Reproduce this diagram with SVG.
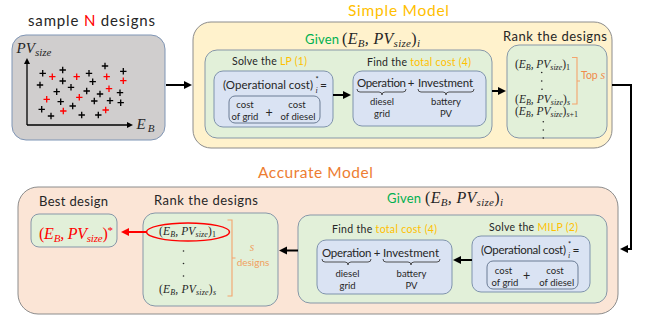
<svg xmlns="http://www.w3.org/2000/svg" width="646" height="320" viewBox="0 0 646 320">
<defs>
<style>
.t{font-family:Lato,"Liberation Sans",sans-serif;fill:#262626}
.m{font-family:"Liberation Serif",serif;font-style:italic;fill:#262626}
.u{font-style:normal}
.y{fill:#FFC000}
.gr{fill:#00B050}
.or{fill:#F08A4B}
.green{fill:#E2F0D9;stroke:#8797A8;stroke-width:1}
.blue{fill:#DAE3F3;stroke:#7F93AD;stroke-width:1}
.inner{fill:#DAE3F3;stroke:#5F708A;stroke-width:0.9}
.conn{stroke:#000;stroke-width:2;fill:none;marker-end:url(#ah)}
.red{stroke:#FF0000;stroke-width:2;fill:none;marker-end:url(#ahr)}
.brace{fill:none;stroke:#404040;stroke-width:0.9}
.obr{fill:none;stroke:#F4A46C;stroke-width:1.1}
.pk{stroke:#000;stroke-width:1.3;fill:none}
.pr{stroke:#FF0000;stroke-width:1.3;fill:none}
.ax{stroke:#000;stroke-width:1.3;fill:none;marker-end:url(#axh)}
</style>
<marker id="ah" markerWidth="9" markerHeight="9" refX="1" refY="4" orient="auto" markerUnits="userSpaceOnUse"><path d="M0,0L8,4L0,8z" fill="#000"/></marker>
<marker id="ahr" markerWidth="9" markerHeight="9" refX="1" refY="4" orient="auto" markerUnits="userSpaceOnUse"><path d="M0,0L8,4L0,8z" fill="#FF0000"/></marker>
<marker id="axh" markerWidth="7" markerHeight="7" refX="1" refY="3" orient="auto" markerUnits="userSpaceOnUse"><path d="M0,0L6,3L0,6z" fill="#000"/></marker>
<path id="plus" d="M-3.2,0H3.2M0,-3.2V3.2"/>
</defs>

<g id="sample-designs">
<text class="t" x="28" y="26" font-size="15" textLength="127">sample <tspan fill="#FF0000">N</tspan> designs</text>
<rect x="12" y="35" width="153" height="105" rx="14" fill="#D0CECE" stroke="#7F95B5" stroke-width="1"/>
<path class="ax" d="M27,125V63"/>
<path class="ax" d="M27,125H128"/>
<text class="m" x="16.5" y="53" font-size="15" textLength="35">PV<tspan font-size="11" dy="2.5">size</tspan></text>
<text class="m" x="136.5" y="128.5" font-size="15" textLength="18">E<tspan font-size="11" dy="3">B</tspan></text>
<g class="pk">
<use href="#plus" x="42.7" y="73.3"/><use href="#plus" x="62.7" y="70"/><use href="#plus" x="89" y="73.3"/>
<use href="#plus" x="105" y="66"/><use href="#plus" x="123.3" y="71.3"/><use href="#plus" x="40" y="85"/>
<use href="#plus" x="62.7" y="81"/><use href="#plus" x="92.7" y="81.7"/><use href="#plus" x="56.7" y="91.7"/>
<use href="#plus" x="71" y="87.3"/><use href="#plus" x="86.7" y="91"/><use href="#plus" x="100" y="94"/>
<use href="#plus" x="120" y="92.7"/><use href="#plus" x="60.7" y="101.7"/><use href="#plus" x="72.7" y="106"/>
<use href="#plus" x="94.3" y="101"/><use href="#plus" x="110" y="100.7"/><use href="#plus" x="120.7" y="102.7"/>
<use href="#plus" x="41.7" y="109.3"/><use href="#plus" x="51" y="116"/><use href="#plus" x="81.7" y="115"/>
<use href="#plus" x="98.3" y="115"/>
</g>
<g class="pr">
<use href="#plus" x="52.3" y="76.7"/><use href="#plus" x="76.7" y="76.7"/><use href="#plus" x="106.7" y="76.7"/>
<use href="#plus" x="123.3" y="80.7"/><use href="#plus" x="109" y="88.7"/><use href="#plus" x="46.7" y="99.3"/>
<use href="#plus" x="79.3" y="97.3"/><use href="#plus" x="63.3" y="111"/><use href="#plus" x="105.7" y="110"/>
</g>
</g>

<g id="simple-model">
<text class="t y" x="348" y="16" font-size="15.5" textLength="101">Simple Model</text>
<rect x="193" y="22" width="419" height="126" rx="18" fill="#FFF2CC" stroke="#8C8C8C" stroke-width="1"/>
<text class="t gr" x="305" y="44" font-size="13" textLength="34">Given</text>
<text class="m" x="342" y="44" font-size="16" textLength="78"><tspan class="u">(</tspan>E<tspan font-size="11" dy="3">B</tspan><tspan dy="-3">, PV</tspan><tspan font-size="11" dy="3">size</tspan><tspan class="u" dy="-3">)</tspan><tspan font-size="11" dy="3">i</tspan></text>
</g>

<g id="simple-given">
<rect class="green" x="205" y="50" width="287" height="88" rx="12"/>
</g>

<g id="solve-lp">
<text class="t" x="232" y="65" font-size="10.5" textLength="75">Solve the <tspan class="y">LP (1)</tspan></text>
<rect class="blue" x="214" y="71" width="119" height="56" rx="9"/>
<text class="t" x="223" y="89" font-size="11.5"><tspan textLength="90">(Operational cost)</tspan><tspan class="m" x="315.5" dy="4" font-size="8">i</tspan><tspan x="315.5" dy="-11" font-size="7.5">*</tspan><tspan x="320" dy="7" font-size="12">=</tspan></text>
<rect class="inner" x="229" y="96" width="91" height="27" rx="6"/>
<g class="t" font-size="9.5" text-anchor="middle">
<text x="245" y="108">cost</text><text x="245" y="120">of grid</text>
<text x="297" y="108">cost</text><text x="298" y="120">of diesel</text>
<text x="269" y="117" font-size="12.5">+</text>
</g>
</g>

<g id="total-cost-simple">
<text class="t" x="367" y="66" font-size="10.5" textLength="104">Find the <tspan class="y">total cost (4)</tspan></text>
<rect class="blue" x="353" y="71" width="133" height="55" rx="9"/>
<text class="t" x="357" y="86.5" font-size="11.5" textLength="49">Operation</text>
<text class="t" x="411" y="86.5" font-size="11.5" text-anchor="middle">+</text>
<text class="t" x="418" y="86.5" font-size="11.5" textLength="55">Investment</text>
<path class="brace" d="M357,89 Q357,92 360,92 H379 Q382,92 382,95 Q382,92 385,92 H403 Q406,92 406,89"/>
<path class="brace" d="M418,89 Q418,92 421,92 H443 Q446,92 446,95 Q446,92 449,92 H471 Q474,92 474,89"/>
<g class="t" font-size="9.5" text-anchor="middle">
<text x="382" y="105">diesel</text><text x="382" y="117">grid</text>
<text x="446" y="105">battery</text><text x="446" y="117">PV</text>
</g>
</g>

<g id="rank-simple">
<text class="t" x="503" y="40.5" font-size="13" textLength="104">Rank the designs</text>
<rect class="green" x="507" y="45" width="100" height="93" rx="12"/>
<g class="m" font-size="11.5">
<text x="515" y="68" textLength="55"><tspan class="u">(</tspan>E<tspan font-size="8" dy="2">B</tspan><tspan dy="-2">, PV</tspan><tspan font-size="8" dy="2">size</tspan><tspan class="u" dy="-2">)</tspan><tspan class="u" font-size="8" dy="2">1</tspan></text>
<text x="515" y="103" textLength="55"><tspan class="u">(</tspan>E<tspan font-size="8" dy="2">B</tspan><tspan dy="-2">, PV</tspan><tspan font-size="8" dy="2">size</tspan><tspan class="u" dy="-2">)</tspan><tspan font-size="8" dy="2">s</tspan></text>
<text x="515" y="115" textLength="63"><tspan class="u">(</tspan>E<tspan font-size="8" dy="2">B</tspan><tspan dy="-2">, PV</tspan><tspan font-size="8" dy="2">size</tspan><tspan class="u" dy="-2">)</tspan><tspan font-size="8" dy="2">s<tspan class="u">+1</tspan></tspan></text>
</g>
<g fill="#262626">
<circle cx="541.7" cy="72.5" r="0.8"/><circle cx="541.7" cy="81" r="0.8"/><circle cx="542" cy="89.3" r="0.8"/>
<circle cx="543.3" cy="121.7" r="0.8"/><circle cx="543.3" cy="130" r="0.8"/><circle cx="543.3" cy="138" r="0.8"/>
</g>
<path class="obr" d="M572,57.5 H577 V104 H572 M577,81 H580"/>
<text class="t or" x="581" y="79" font-size="10.5">Top <tspan class="m or" font-size="12">s</tspan></text>
</g>

<g id="accurate-model">
<text class="t" x="258" y="178" font-size="15.5" textLength="115" style="fill:#ED7D31">Accurate Model</text>
<rect x="18" y="187" width="600" height="127" rx="20" fill="#FBE5D6" stroke="#8C8C8C" stroke-width="1"/>
<text class="t gr" x="387" y="203" font-size="13" textLength="34">Given</text>
<text class="m" x="425" y="203" font-size="16" textLength="78"><tspan class="u">(</tspan>E<tspan font-size="11" dy="3">B</tspan><tspan dy="-3">, PV</tspan><tspan font-size="11" dy="3">size</tspan><tspan class="u" dy="-3">)</tspan><tspan font-size="11" dy="3">i</tspan></text>
</g>

<g id="accurate-given">
<rect class="green" x="298" y="215" width="309" height="88" rx="12"/>
</g>

<g id="total-cost-accurate">
<text class="t" x="332" y="233" font-size="10.5" textLength="105">Find the <tspan class="y">total cost (4)</tspan></text>
<rect class="blue" x="317" y="240" width="135" height="54" rx="9"/>
<text class="t" x="322" y="256.5" font-size="11.5" textLength="49.5">Operation</text>
<text class="t" x="377" y="256.5" font-size="11.5" text-anchor="middle">+</text>
<text class="t" x="383" y="256.5" font-size="11.5" textLength="56">Investment</text>
<path class="brace" d="M322,259 Q322,262 325,262 H345 Q348,262 348,265 Q348,262 351,262 H368 Q371,262 371,259"/>
<path class="brace" d="M383,259 Q383,262 386,262 H408 Q411,262 411,265 Q411,262 414,262 H437 Q440,262 440,259"/>
<g class="t" font-size="9.5" text-anchor="middle">
<text x="347.5" y="277">diesel</text><text x="347.5" y="289">grid</text>
<text x="411.5" y="277">battery</text><text x="411.5" y="289">PV</text>
</g>
</g>

<g id="solve-milp">
<text class="t" x="489" y="231" font-size="10.5" textLength="89">Solve the <tspan class="y">MILP (2)</tspan></text>
<rect class="blue" x="472" y="236" width="118" height="56" rx="9"/>
<text class="t" x="481" y="254" font-size="11.5"><tspan textLength="85">(Operational cost)</tspan><tspan class="m" x="568" dy="4" font-size="8">i</tspan><tspan x="568" dy="-11" font-size="7.5">*</tspan><tspan x="572.5" dy="7" font-size="12">=</tspan></text>
<rect class="inner" x="487" y="261" width="91" height="28" rx="6"/>
<g class="t" font-size="9.5" text-anchor="middle">
<text x="503.5" y="273.5">cost</text><text x="505" y="285.5">of grid</text>
<text x="555" y="273.5">cost</text><text x="556.7" y="285.5">of diesel</text>
<text x="526.7" y="280" font-size="12.5">+</text>
</g>
</g>

<g id="rank-accurate">
<text class="t" x="154" y="205" font-size="13" textLength="104">Rank the designs</text>
<rect class="green" x="143" y="213" width="135" height="93" rx="12"/>
<ellipse cx="188" cy="232" rx="41.5" ry="9" fill="none" stroke="#FF0000" stroke-width="1.5"/>
<g class="m" font-size="11.5">
<text x="159" y="235" textLength="57"><tspan class="u">(</tspan>E<tspan font-size="8" dy="2">B</tspan><tspan dy="-2">, PV</tspan><tspan font-size="8" dy="2">size</tspan><tspan class="u" dy="-2">)</tspan><tspan class="u" font-size="8" dy="2">1</tspan></text>
<text x="159" y="293" textLength="57"><tspan class="u">(</tspan>E<tspan font-size="8" dy="2">B</tspan><tspan dy="-2">, PV</tspan><tspan font-size="8" dy="2">size</tspan><tspan class="u" dy="-2">)</tspan><tspan font-size="8" dy="2">s</tspan></text>
</g>
<g fill="#262626">
<circle cx="183.5" cy="251" r="0.8"/><circle cx="183.5" cy="263.5" r="0.8"/><circle cx="183.5" cy="276" r="0.8"/>
</g>
<path class="obr" d="M227.5,220 H232 V296 H227.5 M232,258 H235.5"/>
<text class="m" x="252" y="251" font-size="11.5" text-anchor="middle" style="fill:#F0A060">s</text>
<text class="t" x="253" y="266" font-size="10" text-anchor="middle" style="fill:#F0A060">designs</text>
</g>

<g id="best-design">
<text class="t" x="39" y="205.5" font-size="13" textLength="69">Best design</text>
<rect class="green" x="31" y="214" width="86" height="33" rx="8"/>
<text class="m" x="39" y="239" font-size="16" textLength="74" style="fill:#FF0000"><tspan class="u">(</tspan>E<tspan font-size="11" dy="3">B</tspan><tspan dy="-3">, PV</tspan><tspan font-size="11" dy="3">size</tspan><tspan class="u" dy="-3">)</tspan><tspan class="u" font-size="11" dy="-5">*</tspan></text>
</g>

<g id="connectors">
<path class="conn" d="M166,85 H185"/>
<path class="conn" d="M333,95 H344"/>
<path class="conn" d="M492,91 H499"/>
<path class="conn" d="M612,85 H631 V249 H627"/>
<path class="conn" d="M298,250.5 H286"/>
<path class="conn" d="M472,260 H460"/>
<path class="red" d="M147,232 H128"/>
</g>
</svg>
